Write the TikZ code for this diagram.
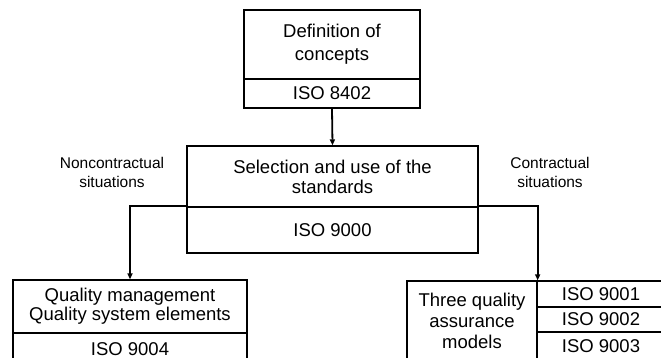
\documentclass[tikz,border=0pt]{standalone}
\usepackage{fontspec}
\setmainfont{Liberation Sans}
\usetikzlibrary{arrows.meta}
\begin{document}
\begin{tikzpicture}[x=1pt,y=1pt,
  box/.style={draw, line width=1.3pt, rectangle, inner sep=0pt, align=center,
    font=\fontsize{18.5}{20}\selectfont},
  lbl/.style={align=center, inner sep=0pt, font=\fontsize{15.5}{19}\selectfont},
  conn/.style={line width=1.8pt, -{Triangle[length=6pt,width=5pt]}}]
\useasboundingbox (0,0) rectangle (661,358);
\clip (0,0) rectangle (661,358);
% top
\node[box, minimum width=176, minimum height=69, font=\fontsize{18.5}{23}\selectfont] (def) at (332,313.5) {Definition of\\concepts};
\node[box, minimum width=176, minimum height=29] (iso8402) at (332,264.5) {ISO 8402};
% middle
\node[box, minimum width=291, minimum height=61] (sel) at (332.5,181.5) {Selection and use of the\\standards};
\node[box, minimum width=291, minimum height=46] (iso9000) at (332.5,128) {ISO 9000};
% left bottom
\node[box, minimum width=234, minimum height=53, font=\fontsize{18.5}{19}\selectfont] (qm) at (130,51.5) {Quality management\\Quality system elements};
\node[box, minimum width=234, minimum height=32, font=\fontsize{18.5}{18.5}\selectfont] (iso9004) at (130,9) {ISO 9004};
% right bottom
\node[box, minimum width=130, minimum height=79, font=\fontsize{18.5}{21}\selectfont] (tqa) at (472,37.5) {Three quality\\assurance\\models};
\node[box, minimum width=128, minimum height=26] (iso9001) at (601,64) {ISO 9001};
\node[box, minimum width=128, minimum height=25] (iso9002) at (601,38.5) {ISO 9002};
\node[box, minimum width=128, minimum height=28] (iso9003) at (601,12) {ISO 9003};
% labels
\node[lbl] (nc) at (112,185.5) {Noncontractual\\situations};
\node[lbl] (cs) at (550,185.5) {Contractual\\situations};
% connectors
\draw[conn] (iso8402.south) -- (sel.north);
\draw[conn] (iso9000.north west) -| (qm.north);
\draw[conn] (iso9000.north east) -| (tqa.north east);
\end{tikzpicture}
\end{document}
